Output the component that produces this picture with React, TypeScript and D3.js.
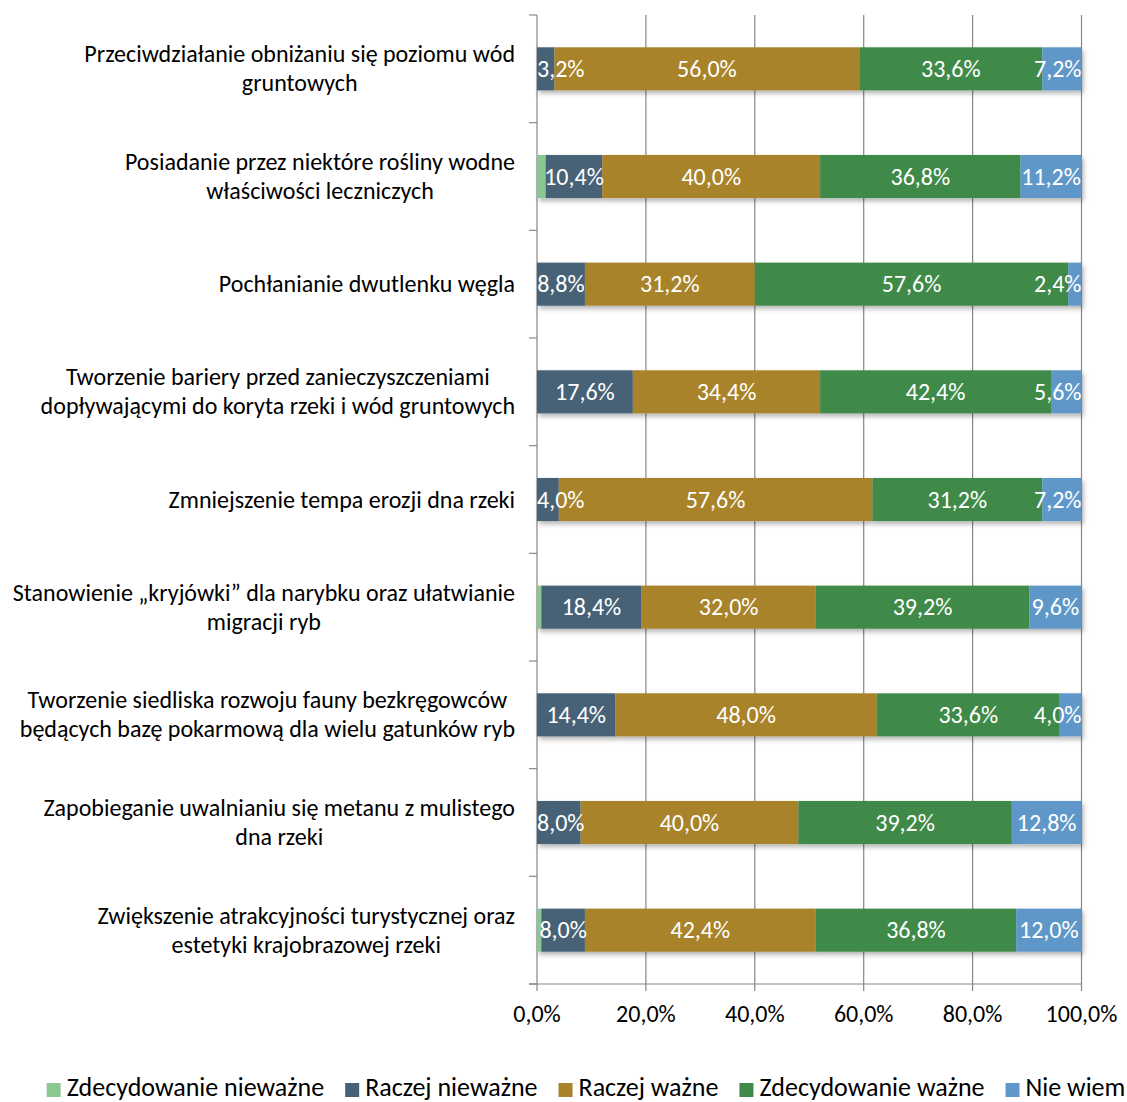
import React, { useEffect, useRef } from 'react';
import * as d3 from 'd3';

const categories = [
  'Przeciwdziałanie obniżaniu się poziomu wód\ngruntowych',
  'Posiadanie przez niektóre rośliny wodne\nwłaściwości leczniczych',
  'Pochłanianie dwutlenku węgla',
  'Tworzenie bariery przed zanieczyszczeniami\ndopływającymi do koryta rzeki i wód gruntowych',
  'Zmniejszenie tempa erozji dna rzeki',
  'Stanowienie „kryjówki” dla narybku oraz ułatwianie\nmigracji ryb',
  'Tworzenie siedliska rozwoju fauny bezkręgowców\nbędących bazę pokarmową dla wielu gatunków ryb',
  'Zapobieganie uwalnianiu się metanu z mulistego\ndna rzeki',
  'Zwiększenie atrakcyjności turystycznej oraz\nestetyki krajobrazowej rzeki',
];

const seriesNames = ['Zdecydowanie nieważne', 'Raczej nieważne', 'Raczej ważne', 'Zdecydowanie ważne', 'Nie wiem'];
const seriesColors = ['#8BC891', '#466276', '#A8832A', '#3F8A4A', '#5F98C8'];

const zdecydowanieNiewazne = [0, 1.6, 0, 0, 0, 0.8, 0, 0, 0.8];
const raczejNiewazne = [3.2, 10.4, 8.8, 17.6, 4.0, 18.4, 14.4, 8.0, 8.0];
const raczejWazne = [56.0, 40.0, 31.2, 34.4, 57.6, 32.0, 48.0, 40.0, 42.4];
const zdecydowanieWazne = [33.6, 36.8, 57.6, 42.4, 31.2, 39.2, 33.6, 39.2, 36.8];
const nieWiem = [7.2, 11.2, 2.4, 5.6, 7.2, 9.6, 4.0, 12.8, 12.0];
const showLabels = [false, true, true, true, true];

const xTicks = [0, 20, 40, 60, 80, 100];

const FONT = 'Carlito, Lato, "Open Sans", sans-serif';

export default function App() {
  const ref = useRef<SVGSVGElement | null>(null);

  useEffect(() => {
    const svg = d3.select(ref.current);
    svg.selectAll('*').remove();
    const W = 1127;
    const H = 1102;
    const left = 537;
    const right = 1081.5;
    const top = 15;
    const bottom = 984;

    const series = [zdecydowanieNiewazne, raczejNiewazne, raczejWazne, zdecydowanieWazne, nieWiem];

    const x = d3.scaleLinear().domain([0, 100]).range([left, right]);
    const y = d3
      .scaleBand<string>()
      .domain(categories)
      .range([top, bottom])
      .paddingInner(0.6)
      .paddingOuter(0.3);

    const defs = svg.append('defs');
    const f = defs
      .append('filter')
      .attr('id', 'shadow')
      .attr('x', '-5%')
      .attr('y', '-20%')
      .attr('width', '110%')
      .attr('height', '160%');
    f.append('feDropShadow')
      .attr('dx', 2)
      .attr('dy', 3)
      .attr('stdDeviation', 2.5)
      .attr('flood-color', '#000')
      .attr('flood-opacity', 0.3);

    // gridlines
    const grid = svg.append('g');
    xTicks
      .filter((t) => t > 0)
      .forEach((t) => {
        grid
          .append('line')
          .attr('x1', x(t))
          .attr('x2', x(t))
          .attr('y1', top)
          .attr('y2', bottom + 7)
          .attr('stroke', '#878787')
          .attr('stroke-width', 1.2);
      });

    // y axis
    const axis = svg.append('g').attr('stroke', '#878787').attr('stroke-width', 1.2);
    axis.append('line').attr('x1', left).attr('x2', left).attr('y1', top).attr('y2', bottom + 7);
    const step = (bottom - top) / categories.length;
    d3.range(categories.length + 1).forEach((i) => {
      const yy = top + i * step;
      axis.append('line').attr('x1', left - 8).attr('x2', left).attr('y1', yy).attr('y2', yy);
    });
    // x axis
    axis.append('line').attr('x1', left - 8).attr('x2', right).attr('y1', bottom).attr('y2', bottom);

    // stacked data
    const rows = categories.map((c, i) => {
      let acc = 0;
      return series.map((s, k) => {
        const v = s[i];
        const seg = { cat: c, k, v, x0: acc, x1: acc + v };
        acc += v;
        return seg;
      });
    });

    const bars = svg.append('g');
    rows.forEach((segs) => {
      const g = bars.append('g').attr('filter', 'url(#shadow)');
      segs.forEach((s) => {
        if (s.v <= 0) return;
        g.append('rect')
          .attr('x', x(s.x0))
          .attr('y', y(s.cat)!)
          .attr('width', x(s.x1) - x(s.x0))
          .attr('height', y.bandwidth())
          .attr('fill', seriesColors[s.k]);
      });
    });

    // bar labels
    const labels = svg.append('g').attr('font-family', FONT).attr('font-size', 24).attr('fill', '#fff');
    rows.forEach((segs) => {
      segs.forEach((s) => {
        if (s.v <= 0 || !showLabels[s.k]) return;
        const cx = (x(s.x0) + x(s.x1)) / 2;
        const t = labels
          .append('text')
          .attr('y', y(s.cat)! + y.bandwidth() / 2)
          .attr('dy', '0.34em')
          .attr('text-anchor', 'middle')
          .text(d3.format('.1f')(s.v).replace('.', ',') + '%');
        const w = (t.node() as SVGTextElement).getComputedTextLength();
        let px = cx;
        if (px + w / 2 > right) px = right - w / 2;
        if (px - w / 2 < left) px = left + w / 2;
        t.attr('x', px);
      });
    });

    // category labels
    const cats = svg.append('g').attr('font-family', FONT).attr('font-size', 24).attr('fill', '#000');
    categories.forEach((c) => {
      const lines = c.split('\n');
      const cy = y(c)! + y.bandwidth() / 2;
      const lh = 29;
      const texts = lines.map((ln, j) =>
        cats
          .append('text')
          .attr('y', cy + (j - (lines.length - 1) / 2) * lh)
          .attr('dy', '0.34em')
          .attr('text-anchor', 'middle')
          .text(ln)
      );
      const maxW = d3.max(texts, (t) => (t.node() as SVGTextElement).getComputedTextLength()) || 0;
      texts.forEach((t) => t.attr('x', 515 - maxW / 2));
    });

    // x tick labels
    const xt = svg.append('g').attr('font-family', FONT).attr('font-size', 24).attr('fill', '#000');
    xTicks.forEach((t) => {
      xt.append('text')
        .attr('x', x(t))
        .attr('y', 1022)
        .attr('text-anchor', 'middle')
        .text(d3.format('.1f')(t).replace('.', ',') + '%');
    });

    // legend
    const lg = svg.append('g').attr('font-family', FONT).attr('font-size', 26).attr('fill', '#000');
    const sq = 14;
    const gapT = 6;
    const gapI = 21;
    const items = seriesNames.map((n, k) => {
      const t = lg.append('text').attr('y', 1096).text(n);
      const w = (t.node() as SVGTextElement).getComputedTextLength();
      return { t, w, k };
    });
    const total = d3.sum(items, (d) => sq + gapT + d.w) + gapI * (items.length - 1);
    let cx = 586 - total / 2;
    items.forEach((d) => {
      lg.append('rect')
        .attr('x', cx)
        .attr('y', 1083)
        .attr('width', sq)
        .attr('height', sq)
        .attr('fill', seriesColors[d.k]);
      d.t.attr('x', cx + sq + gapT);
      cx += sq + gapT + d.w + gapI;
    });
    svg.attr('width', W).attr('height', H);
  }, []);

  return (
    <svg
      ref={ref}
      width={1127}
      height={1102}
      style={{ position: 'absolute', left: 0, top: 0, background: '#fff' }}
    />
  );
}
